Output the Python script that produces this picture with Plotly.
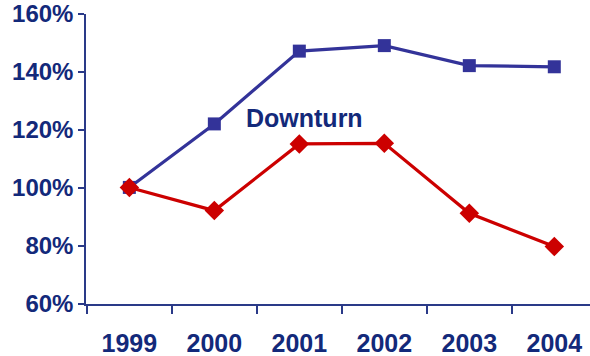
import plotly.graph_objects as go

years = ["1999", "2000", "2001", "2002", "2003", "2004"]
blue_vals = [100.2, 122.1, 147.2, 149.1, 142.2, 141.8]
red_vals = [100.2, 92.2, 115.2, 115.4, 91.3, 79.8]
y_ticks = [60, 80, 100, 120, 140, 160]
y_tick_labels = ["60%", "80%", "100%", "120%", "140%", "160%"]
label_text = "Downturn"
label_x = 2.055
label_y = 124.1

navy = "#13297a"
fig = go.Figure()
fig.add_trace(go.Scatter(x=years, y=blue_vals, mode="lines+markers",
                         line=dict(color="#333399", width=3.2),
                         marker=dict(symbol="square", size=13, color="#333399"),
                         showlegend=False))
fig.add_trace(go.Scatter(x=years, y=red_vals, mode="lines+markers",
                         line=dict(color="#cc0000", width=3.2),
                         marker=dict(symbol="diamond", size=15, color="#cc0000"),
                         showlegend=False))
fig.add_annotation(x=label_x, y=label_y, text=label_text, showarrow=False,
                   font=dict(family="Liberation Sans, Arial", size=25, color=navy, weight="bold"))
fig.update_layout(
    width=590, height=356, margin=dict(l=86, r=0, t=14, b=52),
    paper_bgcolor="white", plot_bgcolor="white",
    font=dict(family="Liberation Sans, Arial", size=24, color=navy, weight="bold"),
)
fig.update_xaxes(type="category", range=[-0.51, 5.42], showgrid=False, zeroline=False,
                 showline=True, linecolor="#2a3a88", linewidth=1.5,
                 ticks="outside", ticklen=8, tickcolor="#2a3a88", tickwidth=1.5,
                 tickson="boundaries", ticklabelstandoff=16,
                 tickfont=dict(size=25, color=navy))
fig.update_yaxes(range=[60, 160], tickvals=y_ticks, ticktext=y_tick_labels,
                 showgrid=False, zeroline=False, showline=True,
                 linecolor="#2a3a88", linewidth=1.5,
                 ticks="outside", ticklen=6, tickcolor="#2a3a88", tickwidth=1.5,
                 tickfont=dict(size=24, color=navy))
fig.write_html("out.html")
